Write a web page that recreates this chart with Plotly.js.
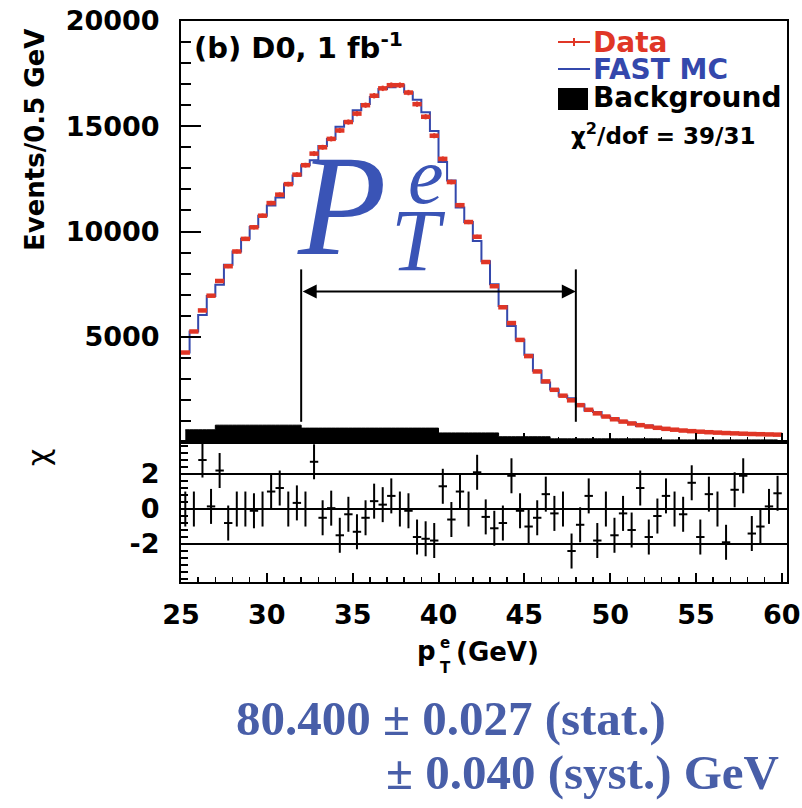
<!DOCTYPE html>
<html>
<head>
<meta charset="utf-8">
<script src="https://cdn.plot.ly/plotly-3.0.1.min.js"></script>
<style>
  html, body { margin: 0; padding: 0; background: #ffffff; }
  #chart { width: 802px; height: 808px; }
</style>
</head>
<body>
<div id="chart"></div>
<script>
// Electron pT spectrum, 0.5 GeV bins from 25 to 60 GeV
const binCenters = [
  25.25, 25.75, 26.25, 26.75, 27.25, 27.75, 28.25, 28.75, 29.25, 29.75,
  30.25, 30.75, 31.25, 31.75, 32.25, 32.75, 33.25, 33.75, 34.25, 34.75,
  35.25, 35.75, 36.25, 36.75, 37.25, 37.75, 38.25, 38.75, 39.25, 39.75,
  40.25, 40.75, 41.25, 41.75, 42.25, 42.75, 43.25, 43.75, 44.25, 44.75,
  45.25, 45.75, 46.25, 46.75, 47.25, 47.75, 48.25, 48.75, 49.25, 49.75,
  50.25, 50.75, 51.25, 51.75, 52.25, 52.75, 53.25, 53.75, 54.25, 54.75,
  55.25, 55.75, 56.25, 56.75, 57.25, 57.75, 58.25, 58.75, 59.25, 59.75
];

// Observed events per bin
const dataCounts = [
  4250, 5250, 6250, 6950, 7650, 8350, 9050, 9650, 10200, 10750,
  11350, 11750, 12250, 12700, 13150, 13700, 14000, 14400, 14800, 15200,
  15600, 16000, 16450, 16800, 16950, 16950, 16600, 16050, 15450, 14550,
  13450, 12350, 11250, 10450, 9750, 8550, 7400, 6400, 5650, 4850,
  4080, 3350, 2880, 2480, 2200, 1980, 1750, 1530, 1360, 1210,
  1080, 970, 880, 800, 735, 675, 625, 585, 545, 515,
  490, 465, 445, 425, 410, 395, 380, 370, 360, 350
];

// FAST MC prediction per bin
const mcCounts = [
  4250, 5250, 6030, 6940, 7470, 8420, 9050, 9650, 10210, 10750,
  11240, 11620, 12250, 12660, 13150, 13390, 14060, 14390, 14980, 15240,
  15760, 16060, 16390, 16770, 16850, 16950, 16610, 16260, 15660, 14770,
  13300, 12420, 11140, 10450, 9550, 8590, 7490, 6460, 5510, 4860,
  4140, 3380, 2830, 2490, 2200, 2080, 1780, 1500, 1420, 1210,
  1130, 980, 915, 765, 780, 685, 605, 585, 555, 485,
  515, 445, 445, 460, 385, 365, 395, 385, 357, 333
];

// Background estimate per bin
const bgCounts = [
  580, 580, 580, 580, 800, 800, 800, 800, 800, 800,
  800, 800, 800, 800, 660, 660, 660, 660, 660, 660,
  660, 660, 660, 660, 660, 660, 660, 660, 660, 660,
  430, 430, 430, 430, 430, 430, 430, 250, 250, 250,
  250, 250, 250, 150, 150, 150, 150, 150, 150, 150,
  150, 150, 150, 150, 150, 150, 100, 100, 100, 100,
  100, 100, 100, 100, 100, 100, 100, 100, 100, 100
];

// chi = (data - MC) / sigma per bin
const chiValues = [
  0.0, 0.0, 2.8, 0.15, 2.2, -0.8, 0.0, 0.0, -0.1, 0.0,
  1.0, 1.2, 0.0, 0.35, 0.0, 2.7, -0.5, 0.05, -1.5, -0.3,
  -1.3, -0.5, 0.45, 0.25, 0.75, 0.0, -0.1, -1.6, -1.7, -1.8,
  1.3, -0.6, 1.0, 0.0, 2.1, -0.45, -1.1, -0.8, 1.9, -0.1,
  -1.0, -0.5, 0.85, -0.25, 0.0, -2.4, -0.9, 0.75, -1.8, 0.0,
  -1.5, -0.25, -1.2, 1.2, -1.6, -0.4, 0.75, 0.0, -0.3, 1.5,
  -1.6, 0.85, 0.0, -1.9, 1.1, 1.9, -1.4, -1.0, 0.15, 0.9
];

// Fit window (GeV) and the row where its arrow is drawn
const fitWindow = [32, 48];
const fitMarkerSpan = [960, 8200];
const fitArrowLevel = 7150;

// Reference levels in the chi panel
const chiLevels = [-2, 0, 2];

const RED = 'rgb(224,54,38)';
const BLUE = 'rgb(52,72,172)';
const TITLE_BLUE = 'rgb(58,84,182)';
const NOTE_BLUE = 'rgb(72,94,168)';
const SANS = 'DejaVu Sans';
const SERIF = 'Liberation Serif';

// Plot frame in page pixels; helpers convert page pixels to paper units
const PL = 181, PR = 787, PT = 21, PB = 582, SPLIT = 442;
const px = p => (p - PL) / (PR - PL);
const py = p => (PB - p) / (PB - PT);
const split = py(SPLIT);

const traces = [
  {
    x: binCenters, y: bgCounts, xaxis: 'x', yaxis: 'y',
    type: 'scatter', mode: 'lines', line: {shape: 'hvh', color: '#000', width: 1},
    fill: 'tozeroy', fillcolor: '#000', hoverinfo: 'skip'
  },
  {
    x: binCenters, y: mcCounts, xaxis: 'x', yaxis: 'y',
    type: 'scatter', mode: 'lines', line: {shape: 'hvh', color: BLUE, width: 2}
  },
  {
    x: binCenters, y: dataCounts, xaxis: 'x', yaxis: 'y',
    type: 'scatter', mode: 'markers',
    marker: {size: 1, color: RED},
    error_x: {type: 'constant', value: 0.27, width: 0, thickness: 4.5, color: RED},
    error_y: {type: 'sqrt', width: 0, thickness: 2, color: RED}
  },
  {
    x: binCenters, y: chiValues, xaxis: 'x2', yaxis: 'y2',
    type: 'scatter', mode: 'markers',
    marker: {symbol: 'line-ew', size: 6, color: '#000', line: {color: '#000', width: 2}},
    error_y: {type: 'constant', value: 1, width: 0, thickness: 2, color: '#000'}
  }
];

const tickFont = {family: SANS, size: 27, color: '#000', weight: 'bold'};

const layout = {
  width: 802, height: 808,
  margin: {l: PL, r: 802 - PR, t: PT, b: 808 - PB, pad: 0},
  paper_bgcolor: '#fff', plot_bgcolor: '#fff',
  showlegend: false,
  font: {family: SANS, color: '#000'},
  xaxis: {
    domain: [0, 1], anchor: 'y', range: [25, 60.3],
    showticklabels: false, showgrid: false, zeroline: false,
    ticks: 'inside', tick0: 25, dtick: 5, ticklen: 9, tickwidth: 2, tickcolor: '#000',
    minor: {ticks: 'inside', dtick: 1, ticklen: 5, tickwidth: 1.5, tickcolor: '#000'},
    showline: true, linewidth: 2, linecolor: '#000', mirror: true
  },
  yaxis: {
    domain: [split, 1], anchor: 'x', range: [0, 20000],
    tickmode: 'array', tickvals: [5000, 10000, 15000, 20000],
    ticktext: ['5000', '10000', '15000', '20000'],
    showgrid: false, zeroline: false,
    ticks: 'inside', ticklen: 20, tickwidth: 2, tickcolor: '#000',
    minor: {ticks: 'inside', tick0: 0, dtick: 1000, ticklen: 10, tickwidth: 2, tickcolor: '#000'},
    showline: true, linewidth: 2, linecolor: '#000', mirror: true,
    tickfont: tickFont, ticklabelstandoff: 14
  },
  xaxis2: {
    domain: [0, 1], anchor: 'y2', matches: 'x', range: [25, 60.3],
    showgrid: false, zeroline: false,
    tickmode: 'linear', tick0: 25, dtick: 5,
    ticks: 'inside', ticklen: 9, tickwidth: 2, tickcolor: '#000',
    minor: {ticks: 'inside', dtick: 1, ticklen: 5, tickwidth: 1.5, tickcolor: '#000'},
    showline: true, linewidth: 2, linecolor: '#000', mirror: true,
    tickfont: tickFont, ticklabelstandoff: 8
  },
  yaxis2: {
    domain: [0, split], anchor: 'x2', range: [-4.17, 3.83],
    tickmode: 'array', tickvals: [-2, 0, 2], ticktext: ['-2', '0', '2'],
    showgrid: false, zeroline: false,
    ticks: 'inside', ticklen: 12, tickwidth: 2, tickcolor: '#000',
    minor: {ticks: 'inside', tick0: 0, dtick: 0.4, ticklen: 7, tickwidth: 1.5, tickcolor: '#000'},
    showline: true, linewidth: 2, linecolor: '#000', mirror: true,
    tickfont: tickFont, ticklabelstandoff: 14
  },
  shapes: [],
  annotations: []
};

// Horizontal reference lines of the chi panel
chiLevels.forEach(v => layout.shapes.push({
  type: 'line', xref: 'x2 domain', yref: 'y2', x0: 0, x1: 1, y0: v, y1: v,
  line: {color: '#000', width: 2}
}));

// Fit window edges
fitWindow.forEach(v => layout.shapes.push({
  type: 'line', xref: 'x', yref: 'y', x0: v, x1: v,
  y0: fitMarkerSpan[0], y1: fitMarkerSpan[1],
  line: {color: '#000', width: 2}
}));

// Double-headed arrow spanning the fit window
layout.annotations.push({
  xref: 'x', yref: 'y', axref: 'x', ayref: 'y',
  x: fitWindow[1], y: fitArrowLevel, ax: fitWindow[0], ay: fitArrowLevel,
  text: '', showarrow: true, arrowhead: 2, arrowside: 'end+start',
  arrowsize: 1.4, arrowwidth: 2, arrowcolor: '#000'
});

// Legend swatches
layout.shapes.push(
  {type: 'line', xref: 'paper', yref: 'paper', x0: px(558), x1: px(590), y0: py(42), y1: py(42),
   line: {color: RED, width: 2}},
  {type: 'line', xref: 'paper', yref: 'paper', x0: px(574), x1: px(574), y0: py(38), y1: py(46),
   line: {color: RED, width: 2}},
  {type: 'line', xref: 'paper', yref: 'paper', x0: px(558), x1: px(590), y0: py(69), y1: py(69),
   line: {color: BLUE, width: 2}},
  {type: 'rect', xref: 'paper', yref: 'paper', x0: px(558), x1: px(588), y0: py(110), y1: py(88),
   line: {width: 0}, fillcolor: '#000'}
);

const note = (text, x, y, opts) => Object.assign({
  xref: 'paper', yref: 'paper', x: px(x), y: py(y), text: text, showarrow: false,
  xanchor: 'left', yanchor: 'middle'
}, opts || {});

layout.annotations.push(
  note('(b) D0, 1 fb<sup>-1</sup>', 192, 46, {font: {family: SANS, size: 29, weight: 'bold', color: '#000'}}),
  note('Data', 591, 42, {font: {family: SANS, size: 28, weight: 'bold', color: RED}}),
  note('FAST MC', 591, 69, {font: {family: SANS, size: 28, weight: 'bold', color: BLUE}}),
  note('Background', 591, 98, {font: {family: SANS, size: 28, weight: 'bold', color: '#000'}}),
  note('\u03c7<sup>2</sup>/dof = 39/31', 569, 134, {font: {family: SANS, size: 23, weight: 'bold', color: '#000'}}),

  // P_T^e label inside the frame
  note('P', 342, 205, {xanchor: 'center', font: {family: SERIF, size: 145, style: 'italic', color: TITLE_BLUE}}),
  note('e', 426, 176, {xanchor: 'center', font: {family: SERIF, size: 80, style: 'italic', color: TITLE_BLUE}}),
  note('T', 418, 240, {xanchor: 'center', font: {family: SERIF, size: 88, style: 'italic', color: TITLE_BLUE}}),

  // Axis titles
  note('Events/0.5 GeV', 35, 140, {xanchor: 'center', textangle: -90,
    font: {family: SANS, size: 26, weight: 'bold', color: '#000'}}),
  note('\u03c7', 38, 458, {xanchor: 'center', textangle: -90,
    font: {family: SANS, size: 30, color: '#000'}}),
  note('p', 426, 651, {xanchor: 'center', font: {family: SANS, size: 26, weight: 'bold', color: '#000'}}),
  note('e', 445, 643, {xanchor: 'center', font: {family: SANS, size: 15, weight: 'bold', color: '#000'}}),
  note('T', 445, 668, {xanchor: 'center', font: {family: SANS, size: 15, weight: 'bold', color: '#000'}}),
  note('(GeV)', 454, 652, {font: {family: SANS, size: 26, weight: 'bold', color: '#000'}}),

  // Measured mass
  note('80.400 \u00b1 0.027 (stat.)', 234, 718, {font: {family: SERIF, size: 49, weight: 'bold', color: NOTE_BLUE}}),
  note('\u00b1 0.040 (syst.) GeV', 384, 773, {font: {family: SERIF, size: 49, weight: 'bold', color: NOTE_BLUE}})
);

Plotly.newPlot('chart', traces, layout, {staticPlot: true, displayModeBar: false});
</script>
</body>
</html>
